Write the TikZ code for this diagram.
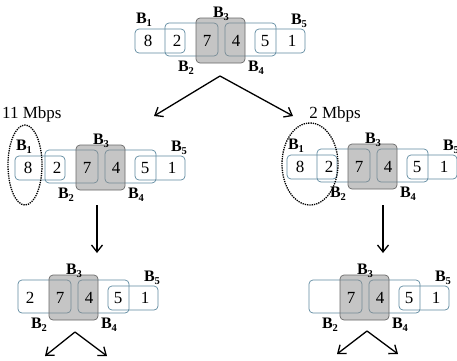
\documentclass[tikz,border=0pt]{standalone}
\usepackage{fontspec}
\setmainfont{Liberation Serif}
\usetikzlibrary{arrows.meta,shapes.geometric}
\definecolor{boxc}{RGB}{95,138,160}
\definecolor{grayf}{RGB}{140,140,140}
\definecolor{grayd}{RGB}{105,105,105}
\newcommand\blab[1]{\textbf{B}\raisebox{-0.45ex}{\fontsize{10.5}{11}\selectfont\bfseries #1}}
% #1 prefix, #2 dx, #3 dy, #4 show B1 and 8, #5 show 2
\newcommand\rowgrp[5]{%
\begin{scope}[shift={(#2,#3)}]
\ifnum#4=1
  \node[cell, minimum width=50pt, minimum height=24pt] (#1b1) at (160,41) {};
\fi
\node[cell, minimum width=53pt, minimum height=33pt] (#1b2) at (191.5,39.5) {};
\node[cell, minimum width=51pt, minimum height=33pt] (#1b4) at (250.5,39.5) {};
\node[cell, minimum width=50pt, minimum height=24pt] (#1b5) at (280,41) {};
\node[gcell] (#1b3) at (220.5,40.5) {};
\ifnum#4=1
  \node[num] (#1n8) at (148,41) {8};
  \node[blabel] (#1l1) at (144,20) {\blab1};
\fi
\ifnum#5=1
  \node[num] (#1n2) at (177,41) {2};
\fi
\node[num] (#1n7) at (207,41) {7};
\node[num] (#1n4) at (236,41) {4};
\node[num] (#1n5) at (265,41) {5};
\node[num] (#1n1) at (292,41) {1};
\node[blabel] (#1l2) at (186,68) {\blab2};
\node[blabel] (#1l3) at (221,14) {\blab3};
\node[blabel] (#1l4) at (256,68) {\blab4};
\node[blabel] (#1l5) at (299,21) {\blab5};
\end{scope}}
\begin{document}
\begin{tikzpicture}[x=1pt,y=-1pt,
  font=\fontsize{17}{19}\selectfont,
  cell/.style={draw=boxc, rounded corners=4pt, line width=0.7pt, inner sep=0pt},
  gcell/.style={draw=grayd, fill=grayf, fill opacity=0.5, rounded corners=4pt, line width=0.7pt, inner sep=0pt, minimum width=49pt, minimum height=45pt},
  num/.style={inner sep=0pt},
  blabel/.style={inner sep=0pt, font=\fontsize{16}{17}\selectfont},
  arr/.style={line width=1.3pt, -{Straight Barb[length=7pt,width=11pt]}},
  dotell/.style={draw, ellipse, densely dotted, line width=1.3pt, inner sep=0pt}
]
\useasboundingbox (0,0) rectangle (457,360);
\fill[white] (0,0) rectangle (457,360);

\rowgrp{t}{0}{0}{1}{1}
\rowgrp{ml}{-120}{127}{1}{1}
\rowgrp{mr}{152}{126}{1}{1}
\rowgrp{bl}{-147}{257}{0}{1}
\rowgrp{br}{144}{257}{0}{0}

\node[dotell, minimum width=34pt, minimum height=80pt] (e11) at (25,165) {};
\node[dotell, minimum width=56pt, minimum height=82pt] (e2) at (310,164) {};
\node[inner sep=0pt, anchor=west] (r11) at (2,114) {11 Mbps};
\node[inner sep=0pt] (r2) at (335,114) {2 Mbps};

\coordinate (tapex) at (220,76);
\coordinate (tl) at (154,116);
\coordinate (tr) at (293,116);
\draw[arr] (tapex) -- (tl);
\draw[arr] (tapex) -- (tr);

\coordinate (ml1) at (97,205);
\coordinate (ml2) at (97,253);
\coordinate (mr1) at (383,205);
\coordinate (mr2) at (383,253);
\draw[arr] (ml1) -- (ml2);
\draw[arr] (mr1) -- (mr2);

\coordinate (blapex) at (75,332);
\coordinate (bla) at (45,356);
\coordinate (blb) at (107,356);
\draw[arr] (blapex) -- (bla);
\draw[arr] (blapex) -- (blb);
\coordinate (brapex) at (367,331);
\coordinate (bra) at (337,354);
\coordinate (brb) at (398,354);
\draw[arr] (brapex) -- (bra);
\draw[arr] (brapex) -- (brb);
\end{tikzpicture}
\end{document}
